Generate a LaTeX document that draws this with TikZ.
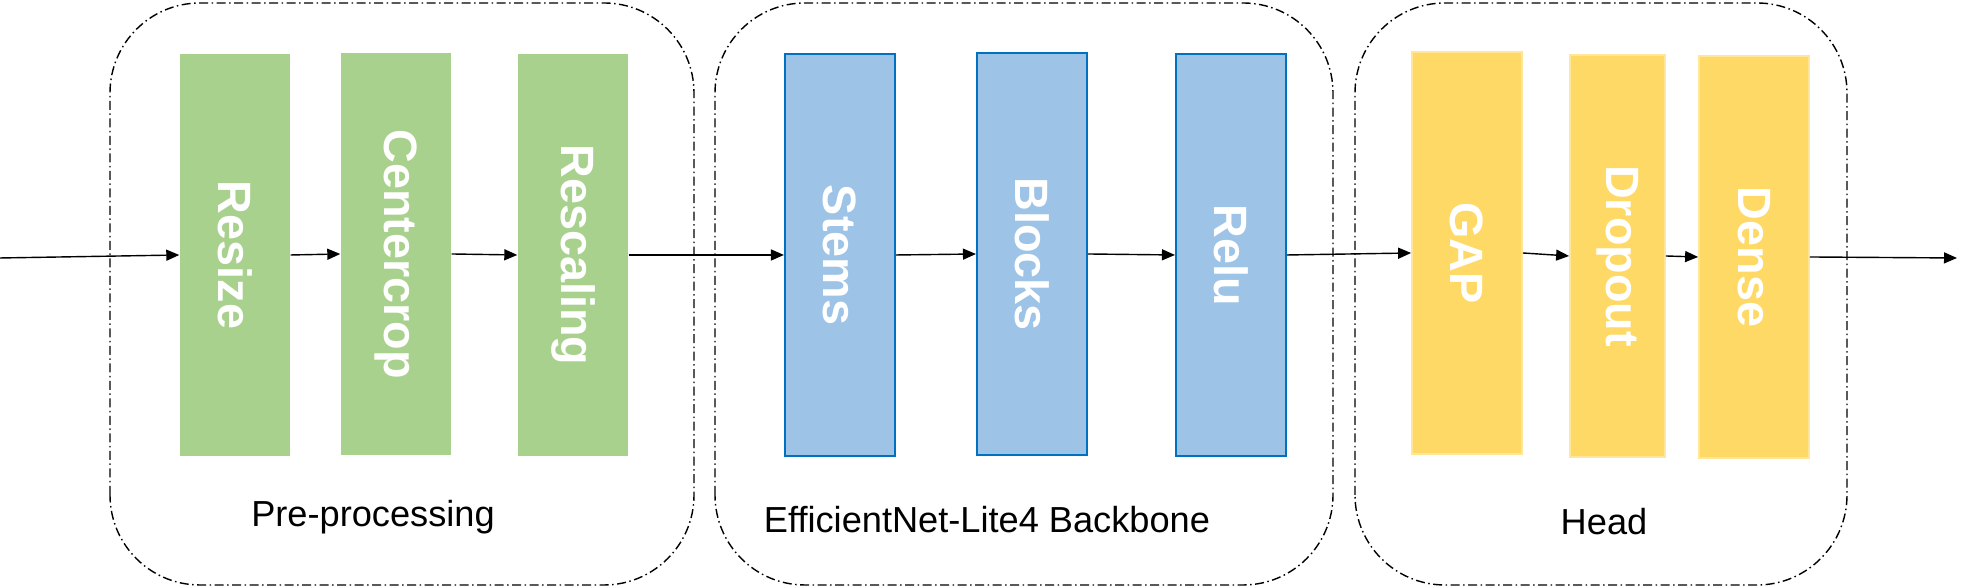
\documentclass[tikz,border=0pt]{standalone}
\usepackage{fontspec}
\setmainfont{Liberation Sans}
\usepackage{xcolor}
\usepackage{graphicx}
\usetikzlibrary{arrows.meta}
\definecolor{LeafGreen}{HTML}{A9D18E}
\definecolor{SkyBlue}{HTML}{9DC3E6}
\definecolor{DeepBlue}{HTML}{0070C0}
\definecolor{Butter}{HTML}{FFD966}
\definecolor{PaleButter}{HTML}{FFE699}

\begin{document}
\begin{tikzpicture}[
    layer/.style={minimum width=1.1cm, minimum height=4.02cm, inner sep=0pt,
                  text=white, font=\fontsize{13.3}{15}\selectfont\bfseries},
    prep/.style={layer, fill=LeafGreen},
    backbone/.style={layer, fill=SkyBlue, draw=DeepBlue, line width=0.6pt},
    head/.style={layer, fill=Butter, draw=PaleButter, line width=0.5pt},
    group/.style={draw=black, line width=0.4pt, rounded corners=0.9cm,
                  dash pattern=on 0.9mm off 0.35mm on 0.15mm off 0.35mm},
    grouplabel/.style={font=\fontsize{10.3}{12}\selectfont},
    flow/.style={-{Triangle[length=1.3mm,width=1.1mm]}, line width=0.4pt}
  ]
  \useasboundingbox (0,0) rectangle (19.71,5.87);

  % dash-dot groups
  \draw[group] (1.10,0.02) rectangle (6.94,5.84);
  \draw[group] (7.15,0.02) rectangle (13.33,5.84);
  \draw[group] (13.55,0.02) rectangle (18.47,5.84);

  \node[grouplabel] (lprep) at (3.73,0.70) {Pre-processing};
  \node[grouplabel] (lback) at (9.87,0.67) {EfficientNet-Lite4 Backbone};
  \node[grouplabel] (lhead) at (16.04,0.65) {Head};

  % layers
  \node[prep] (resize)    at (2.35,3.32) {\rotatebox{-90}{Resize}};
  \node[prep] (centercrop) at (3.96,3.33) {\rotatebox{-90}{Centercrop}};
  \node[prep] (rescaling) at (5.73,3.32) {\rotatebox{-90}{Rescaling}};

  \node[backbone] (stems)  at (8.40,3.32) {\rotatebox{-90}{Stems}};
  \node[backbone] (blocks) at (10.32,3.33) {\rotatebox{-90}{Blocks}};
  \node[backbone] (relu)   at (12.31,3.32) {\rotatebox{-90}{Relu}};

  \node[head] (gap)     at (14.67,3.34) {\rotatebox{-90}{GAP}};
  \node[head, minimum width=0.95cm] (dropout) at (16.175,3.31) {\rotatebox{-90}{Dropout}};
  \node[head] (dense)   at (17.54,3.30) {\rotatebox{-90}{Dense}};

  \coordinate (input)  at (0,3.29);
  \coordinate (output) at (19.57,3.29);

  % connectors
  \draw[flow] (input) -- (resize.west);
  \draw[flow] (resize.east) -- (centercrop.west);
  \draw[flow] (centercrop.east) -- (rescaling.west);
  \draw[flow] (rescaling.east) -- (stems.west);
  \draw[flow] (stems.east) -- (blocks.west);
  \draw[flow] (blocks.east) -- (relu.west);
  \draw[flow] (relu.east) -- (gap.west);
  \draw[flow] (gap.east) -- (dropout.west);
  \draw[flow] (dropout.east) -- (dense.west);
  \draw[flow] (dense.east) -- (output);
\end{tikzpicture}
\end{document}
